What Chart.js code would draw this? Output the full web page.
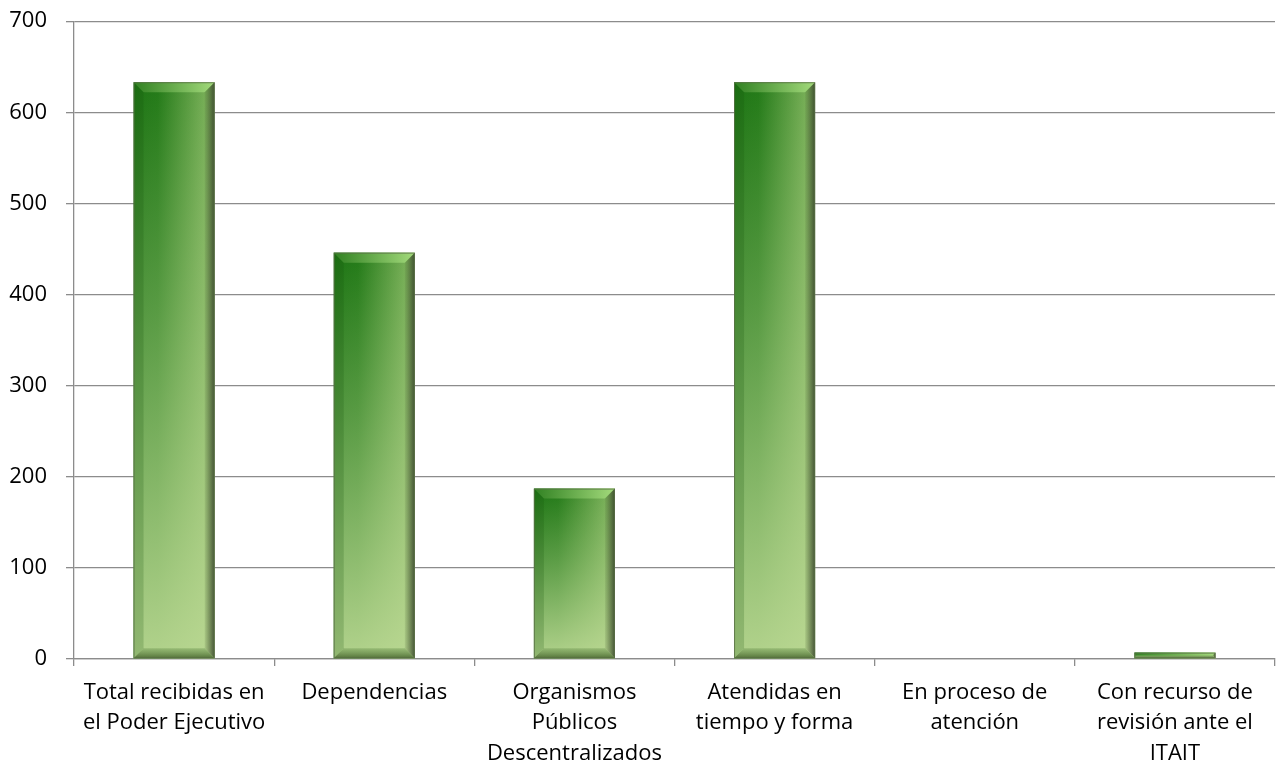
<!DOCTYPE html>
<html>
<head>
<meta charset="utf-8">
<script src="https://cdn.jsdelivr.net/npm/chart.js@4.4.1/dist/chart.umd.min.js"></script>
<style>
  html, body { margin: 0; padding: 0; background: #fff; }
  #wrap { width: 1283px; height: 770px; }
</style>
</head>
<body>
<div id="wrap"><canvas id="grafica" width="1283" height="770"></canvas></div>
<script>
const categorias = [
    ['Total recibidas en', 'el Poder Ejecutivo'],
    'Dependencias',
    ['Organismos', 'Públicos', 'Descentralizados'],
    ['Atendidas en', 'tiempo y forma'],
    ['En proceso de', 'atención'],
    ['Con recurso de', 'revisión ante el', 'ITAIT']
];
const solicitudes = [633, 446, 187, 633, 0, 7];
const ejeY = { min: 0, max: 700, paso: 100 };

// barras con degradado y biselado al estilo de Excel
const bisel = {
    id: 'bisel',
    afterDatasetsDraw(chart) {
        const ctx = chart.ctx;
        chart.getDatasetMeta(0).data.forEach(bar => {
            const alto = bar.base - bar.y;
            if (alto < 0.5) return;
            const l = bar.x - bar.width / 2, r = bar.x + bar.width / 2;
            const t = bar.y, b = bar.base;
            const e = Math.min(10, alto / 2);
            ctx.save();
            // relleno horizontal
            let g = ctx.createLinearGradient(l, t, r, t);
            g.addColorStop(0, '#1d7414');
            g.addColorStop(0.3, '#237a18');
            g.addColorStop(1, '#86b862');
            ctx.fillStyle = g;
            ctx.fillRect(l, t, r - l, alto);
            // aclarado hacia abajo
            g = ctx.createLinearGradient(l, t, l, b);
            g.addColorStop(0, 'rgba(190,218,150,0)');
            g.addColorStop(0.4, 'rgba(190,218,150,0.35)');
            g.addColorStop(1, 'rgba(190,218,150,0.92)');
            ctx.fillStyle = g;
            ctx.fillRect(l, t, r - l, alto);
            // brillo superior
            g = ctx.createLinearGradient(l, t, r, t);
            g.addColorStop(0, 'rgba(50,130,35,0.95)');
            g.addColorStop(1, 'rgba(165,220,125,0.95)');
            ctx.fillStyle = g;
            ctx.beginPath();
            ctx.moveTo(l, t); ctx.lineTo(r, t); ctx.lineTo(r - e, t + e); ctx.lineTo(l + e, t + e);
            ctx.closePath(); ctx.fill();
            // sombra derecha
            g = ctx.createLinearGradient(r - e, t, r, t);
            g.addColorStop(0, 'rgba(60,80,40,0.1)');
            g.addColorStop(1, 'rgba(50,62,40,0.85)');
            ctx.fillStyle = g;
            ctx.beginPath();
            ctx.moveTo(r, t); ctx.lineTo(r, b); ctx.lineTo(r - e, b - e); ctx.lineTo(r - e, t + e);
            ctx.closePath(); ctx.fill();
            // sombra izquierda suave
            ctx.fillStyle = 'rgba(20,80,10,0.2)';
            ctx.beginPath();
            ctx.moveTo(l, t); ctx.lineTo(l + e, t + e); ctx.lineTo(l + e, b - e); ctx.lineTo(l, b);
            ctx.closePath(); ctx.fill();
            // sombra inferior
            g = ctx.createLinearGradient(l, b - e, l, b);
            g.addColorStop(0, 'rgba(120,160,90,0.5)');
            g.addColorStop(1, 'rgba(70,100,45,0.9)');
            ctx.fillStyle = g;
            ctx.beginPath();
            ctx.moveTo(l, b); ctx.lineTo(l + e, b - e); ctx.lineTo(r - e, b - e); ctx.lineTo(r, b);
            ctx.closePath(); ctx.fill();
            ctx.strokeStyle = 'rgba(90,110,70,0.8)';
            ctx.lineWidth = 1;
            ctx.strokeRect(l + 0.5, t + 0.5, bar.width - 1, Math.max(alto - 1, 0.5));
            ctx.restore();
        });
    }
};

Chart.defaults.font.family = '"Open Sans", Lato, sans-serif';
Chart.defaults.font.size = 22;
Chart.defaults.color = '#000';

new Chart(document.getElementById('grafica').getContext('2d'), {
    type: 'bar',
    data: {
        labels: categorias,
        datasets: [{
            label: 'Solicitudes',
            data: solicitudes,
            backgroundColor: 'rgba(0,0,0,0)',
            borderWidth: 0,
            categoryPercentage: 0.405,
            barPercentage: 1
        }]
    },
    options: {
        responsive: false,
        animation: false,
        layout: { padding: { top: 18, right: 8, left: 0, bottom: 0 } },
        plugins: {
            legend: { display: false },
            tooltip: { enabled: false }
        },
        scales: {
            x: {
                afterFit(scale) { scale.height = 111; },
                grid: {
                    display: true,
                    drawOnChartArea: false,
                    offset: true,
                    color: '#8c8c8c',
                    lineWidth: 1.3,
                    tickLength: 7
                },
                border: { color: '#8c8c8c', width: 1.3 },
                ticks: { maxRotation: 0, autoSkip: false, padding: 11, font: { lineHeight: 1.4 } }
            },
            y: {
                min: ejeY.min,
                max: ejeY.max,
                afterFit(scale) { scale.width = 74; },
                ticks: { stepSize: ejeY.paso, padding: 19, font: { lineHeight: 0.2 } },
                grid: { color: '#8c8c8c', lineWidth: 1.3, tickLength: 8 },
                border: { color: '#8c8c8c', width: 1.3 }
            }
        }
    },
    plugins: [bisel]
});
</script>
</body>
</html>
